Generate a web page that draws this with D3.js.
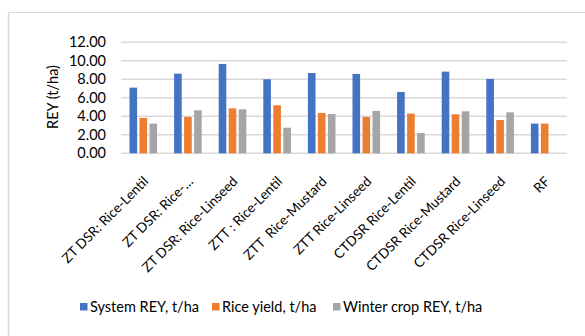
<!DOCTYPE html>
<html>
<head>
<meta charset="utf-8">
<script src="https://cdn.jsdelivr.net/npm/d3@7"></script>
<style>
  html, body { margin: 0; padding: 0; background: #fff; }
  svg { display: block; font-family: Lato, "Open Sans", sans-serif; }
</style>
</head>
<body>
<svg id="chart" width="585" height="336"></svg>
<script>
// Treatment categories along the x axis
const categories = [
  "ZT DSR: Rice-Lentil",
  "ZT DSR: Rice-…",
  "ZT DSR: Rice-Linseed",
  "ZTT : Rice-Lentil",
  "ZTT  Rice-Mustard",
  "ZTT Rice-Linseed",
  "CTDSR Rice-Lentil",
  "CTDSR Rice-Mustard",
  "CTDSR Rice-Linseed",
  "RF"
];

// Series values (t/ha)
const systemREY = [7.10, 8.61, 9.66, 8.00, 8.68, 8.58, 6.63, 8.83, 8.04, 3.21];
const riceYield = [3.82, 3.93, 4.86, 5.19, 4.36, 3.93, 4.29, 4.22, 3.60, 3.21];
const winterREY = [3.21, 4.65, 4.76, 2.77, 4.25, 4.58, 2.20, 4.54, 4.43, 0];

const seriesNames = ["System REY, t/ha", "Rice yield, t/ha", "Winter crop REY, t/ha"];
const seriesColors = ["#4472C4", "#ED7D31", "#A5A5A5"];
const yTicks = [0, 2, 4, 6, 8, 10, 12];

const series = [systemREY, riceYield, winterREY];
const FONT = 14.5;

const svg = d3.select("#chart");

// Outer frame (top and left edges visible)
svg.append("line").attr("x1", 8.5).attr("x2", 585).attr("y1", 12.5).attr("y2", 12.5)
  .attr("stroke", "#d9d9d9").attr("stroke-width", 1);
svg.append("line").attr("x1", 8.5).attr("x2", 8.5).attr("y1", 12.5).attr("y2", 336)
  .attr("stroke", "#d9d9d9").attr("stroke-width", 1.5);

const plot = { left: 121, right: 567, top: 42.3, bottom: 153.3 };

const x = d3.scaleBand().domain(categories).range([plot.left, plot.right]).paddingInner(0).paddingOuter(0);
const y = d3.scaleLinear().domain([0, 12]).range([plot.bottom, plot.top]);

const barStep = 10;
const barWidth = 7.6;
const xs = d3.scaleBand().domain(d3.range(series.length))
  .range([-barStep * 1.5, barStep * 1.5]).padding(0);

// Gridlines
svg.append("g")
  .selectAll("line")
  .data(yTicks)
  .join("line")
  .attr("x1", plot.left).attr("x2", plot.right)
  .attr("y1", d => y(d)).attr("y2", d => y(d))
  .attr("stroke", "#d9d9d9").attr("stroke-width", 1.5);

// Y axis labels
const yAxis = d3.axisLeft(y).tickValues(yTicks).tickFormat(d3.format(".2f")).tickSize(0).tickPadding(0);
svg.append("g")
  .attr("transform", `translate(${plot.left - 15},0)`)
  .call(yAxis)
  .call(g => g.select(".domain").remove())
  .call(g => g.selectAll("text").attr("font-size", FONT).attr("fill", "#000")
    .attr("font-family", "Lato, sans-serif"));

// Y axis title
svg.append("text")
  .attr("transform", `translate(58,97) rotate(-90)`)
  .attr("text-anchor", "middle")
  .attr("font-size", FONT)
  .text("REY (t/ha)");

// Bars
const groups = svg.append("g")
  .selectAll("g")
  .data(categories)
  .join("g")
  .attr("transform", d => `translate(${x(d) + x.bandwidth() / 2},0)`);

groups.selectAll("rect")
  .data((d, i) => series.map((s, k) => ({ k, v: s[i] })))
  .join("rect")
  .attr("x", d => xs(d.k) + (barStep - barWidth) / 2)
  .attr("width", barWidth)
  .attr("y", d => y(d.v))
  .attr("height", d => y(0) - y(d.v))
  .attr("fill", d => seriesColors[d.k]);

// Category axis labels, rotated
const xAxis = d3.axisBottom(x).tickSize(0).tickPadding(0);
svg.append("g")
  .attr("transform", `translate(0,${plot.bottom})`)
  .call(xAxis)
  .call(g => g.select(".domain").remove())
  .call(g => g.selectAll("text")
    .attr("font-size", 13.6)
    .attr("fill", "#000")
    .attr("font-family", "Lato, sans-serif")
    .attr("text-anchor", "end")
    .attr("dy", null)
    .attr("y", 0)
    .attr("transform", "translate(6,29) rotate(-45)")
    .style("white-space", "pre"));

// Legend
const legendItems = [
  { x: 80, label: seriesNames[0], color: seriesColors[0] },
  { x: 212, label: seriesNames[1], color: seriesColors[1] },
  { x: 333, label: seriesNames[2], color: seriesColors[2] }
];
const legend = svg.append("g");
const li = legend.selectAll("g").data(legendItems).join("g")
  .attr("transform", d => `translate(${d.x},303)`);
li.append("rect").attr("width", 7.5).attr("height", 7.5).attr("fill", d => d.color);
li.append("text").attr("x", 10).attr("y", 9).attr("font-size", FONT).text(d => d.label);
</script>
</body>
</html>
